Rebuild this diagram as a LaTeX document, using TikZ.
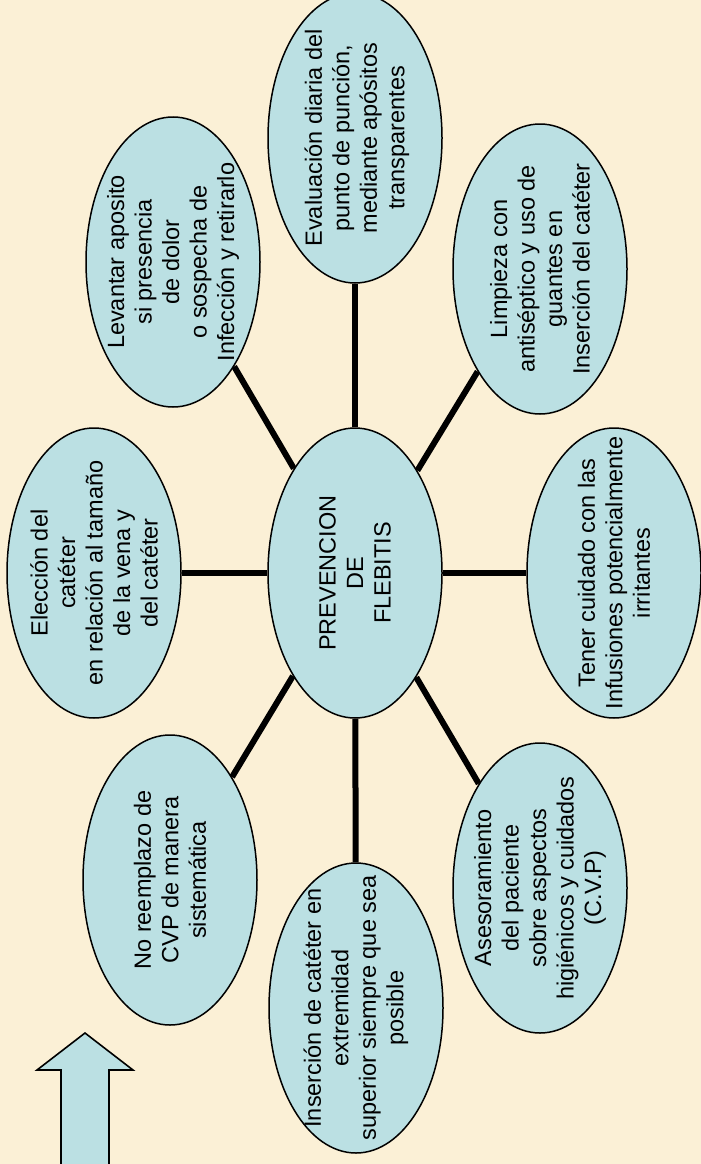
\documentclass[tikz,border=0pt]{standalone}
\usepackage{fontspec}
\setmainfont{Liberation Sans}
\usetikzlibrary{shapes.geometric,backgrounds}
\definecolor{bgbeige}{RGB}{251,240,214}
\definecolor{bubblecol}{RGB}{187,224,227}
\tikzset{
  bubble/.style={ellipse, draw=black, line width=1.5pt, fill=bubblecol,
    rotate=90, minimum width=290pt, minimum height=174pt, inner sep=0pt},
  btext/.style={rotate=90, align=center, inner sep=0pt,
    font=\fontsize{23.5}{27.5}\selectfont, text=black},
  spoke/.style={line width=6pt, draw=black},
  bigarrow/.style={fill=bubblecol, draw=black, line width=1.6pt, line join=miter}
}
\begin{document}
\begin{tikzpicture}[x=1pt,y=-1pt]
\useasboundingbox (0,0) rectangle (701,1164);
\clip (0,0) rectangle (701,1164);
\begin{pgfonlayer}{background}
\fill[bgbeige] (0,0) rectangle (701,1164);
\end{pgfonlayer}

% central
\node[bubble] (c) at (355,573) {};
\node[btext] (tc) at (c.center) {PREVENCION\\DE\\FLEBITIS};

% outer bubbles
\node[bubble] (etop) at (355,138) {};
\node[btext] (ttop) at ([xshift=2pt]etop.center) {Evaluación diaria del\\punto de punción,\\mediante apósitos\\transparentes};

\node[bubble] (eul) at (173,262) {};
\node[btext] (tul) at (eul.center) {Levantar aposito\\si presencia\\de dolor\\o sospecha de\\Infección y retirarlo};

\node[bubble] (el) at (94,573) {};
\node[btext] (tl) at (el.center) {Elección del\\catéter\\en relación al tamaño\\de la vena y\\del catéter};

\node[bubble] (ell) at (170,880) {};
\node[btext] (tll) at (ell.center) {No reemplazo de\\CVP de manera\\sistemática};

\node[bubble] (eb) at (356,1008) {};
\node[btext] (tb) at (eb.center) {Inserción de catéter en\\extremidad\\superior siempre que sea\\posible};

\node[bubble] (elr) at (540,888) {};
\node[btext] (tlr) at (elr.center) {Asesoramiento\\del paciente\\sobre aspectos\\higiénicos y cuidados\\(C.V.P)};

\node[bubble] (er) at (614,573) {};
\node[btext] (tr) at (er.center) {Tener cuidado con las\\Infusiones potencialmente\\irritantes};

\node[bubble] (eur) at (540,269) {};
\node[btext] (tur) at (eur.center) {Limpieza con\\antiséptico y uso de\\guantes en\\Inserción del catéter};

% spokes
\begin{pgfonlayer}{background}
\foreach \n in {etop,eul,el,ell,eb,elr,er,eur}
  \draw[spoke] (c) -- (\n);
\end{pgfonlayer}

% block arrow
\draw[bigarrow] (61,1172) -- (61,1070) -- (37,1070) -- (85,1033) -- (133,1070) -- (109,1070) -- (109,1172) -- cycle;
\end{tikzpicture}
\end{document}
